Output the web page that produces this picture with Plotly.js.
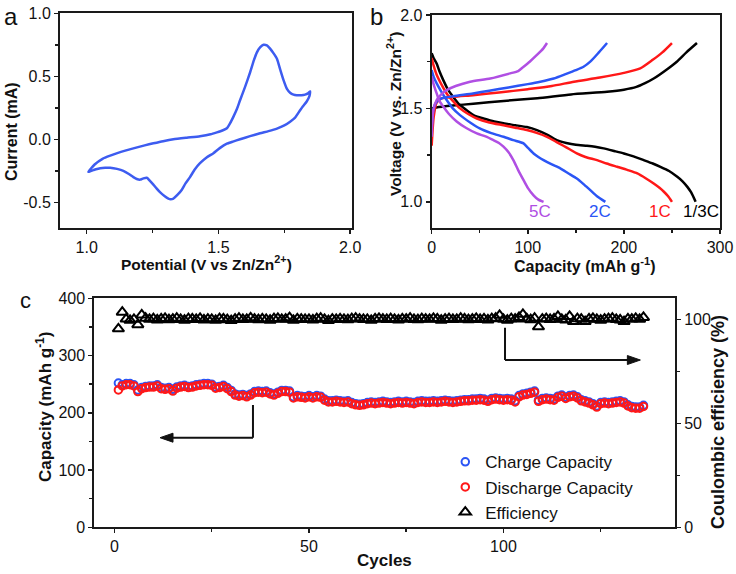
<!DOCTYPE html>
<html><head><meta charset="utf-8">
<script src="https://cdn.plot.ly/plotly-3.0.1.min.js"></script>
<style>html,body{margin:0;padding:0;background:#fff;}#chart{width:736px;height:574px;}</style>
</head><body><div id="chart"></div>
<script>
// ---- Panel a: cyclic voltammogram ----
const cvPotential = [1.006,1.03,1.06,1.089,1.13,1.177,1.22,1.253,1.29,1.329,1.38,1.43,1.47,1.494,1.515,1.532,1.545,1.557,1.57,1.582,1.60,1.620,1.635,1.646,1.658,1.671,1.684,1.696,1.71,1.722,1.735,1.747,1.76,1.772,1.785,1.797,1.815,1.829,1.840,1.848,
  1.845,1.835,1.82,1.81,1.79,1.772,1.75,1.722,1.69,1.658,1.62,1.582,1.555,1.532,1.505,1.481,1.455,1.43,1.41,1.392,1.375,1.361,1.345,1.329,1.318,1.310,1.295,1.278,1.265,1.253,1.24,1.228,1.215,1.203,1.19,1.177,1.16,1.139,1.115,1.089,1.07,1.051,1.035,1.025,1.015,1.006];
const cvCurrent = [-0.258,-0.20,-0.155,-0.130,-0.10,-0.072,-0.048,-0.032,-0.015,0.0,0.013,0.025,0.04,0.055,0.07,0.088,0.13,0.18,0.24,0.31,0.41,0.53,0.63,0.69,0.73,0.75,0.745,0.72,0.68,0.64,0.55,0.47,0.40,0.37,0.355,0.35,0.35,0.355,0.365,0.38,
  0.34,0.30,0.26,0.23,0.17,0.14,0.11,0.085,0.065,0.048,0.025,0.0,-0.018,-0.035,-0.07,-0.11,-0.145,-0.19,-0.24,-0.30,-0.35,-0.40,-0.44,-0.47,-0.475,-0.47,-0.45,-0.42,-0.39,-0.36,-0.33,-0.305,-0.31,-0.32,-0.315,-0.30,-0.275,-0.25,-0.235,-0.226,-0.226,-0.23,-0.238,-0.245,-0.252,-0.258];
const cvXTicks = [1.0,1.5,2.0], cvXTickText = ["1.0","1.5","2.0"];
const cvYTicks = [-0.5,0,0.5,1.0], cvYTickText = ["-0.5","0.0","0.5","1.0"];

// ---- Panel b: charge/discharge profiles ----
const rates = ["5C","2C","1C","1/3C"];
const chg5C_x = [0,1.7,5.2,10,15.6,25,40,61,81.7,90,95.6,102,109.5,116,120];
const chg5C_y = [1.348,1.49,1.545,1.575,1.598,1.62,1.643,1.66,1.6875,1.70,1.723,1.75,1.786,1.82,1.85];
const dis5C_x = [0,2,5.2,8,12.2,18,26,36,47,56,64.3,70,74.7,80,85,90,95.6,100,106,111,116.4];
const dis5C_y = [1.67,1.63,1.58,1.54,1.509,1.47,1.43,1.395,1.366,1.35,1.33,1.315,1.295,1.265,1.223,1.17,1.116,1.075,1.035,1.012,1.0];
const chg2C_x = [0,2,5,10,22.6,43,60,80,100,113,127,140,150,158,165,174,182.5];
const chg2C_y = [1.40,1.50,1.535,1.553,1.565,1.58,1.595,1.612,1.63,1.643,1.66,1.685,1.705,1.723,1.75,1.80,1.85];
const dis2C_x = [0,2,5.2,10,15.6,22,29.5,40,50,62,74.7,85,95.6,100,106,111,116.4,125,133.8,142,151,158,165,172,180.7];
const dis2C_y = [1.705,1.67,1.634,1.59,1.545,1.50,1.464,1.425,1.393,1.368,1.348,1.33,1.3125,1.29,1.259,1.24,1.223,1.20,1.179,1.153,1.125,1.095,1.0625,1.03,1.0];
const chg1C_x = [0,2,5,10,22.6,43,70,100,125,148,175,200,217,230,240,250];
const chg1C_y = [1.30,1.45,1.53,1.553,1.562,1.571,1.585,1.603,1.62,1.643,1.665,1.69,1.714,1.76,1.80,1.85];
const dis1C_x = [0,2,5.2,10,15.6,22,29.5,38,47,60,74.7,87,99,110,120,130,137,144,151,160,172,182,193,204,214,223,231,237,241.6,246,250];
const dis1C_y = [1.77,1.73,1.68,1.63,1.58,1.54,1.50,1.47,1.446,1.425,1.41,1.397,1.384,1.368,1.348,1.32,1.30,1.28,1.259,1.24,1.223,1.205,1.1875,1.17,1.152,1.125,1.098,1.075,1.054,1.03,1.0];
const chg13C_x = [0,5,22,43.4,75,110,145,182.5,200,213,222,231,245,255,265,276];
const chg13C_y = [1.50,1.505,1.515,1.525,1.54,1.555,1.575,1.589,1.60,1.615,1.635,1.66,1.71,1.75,1.80,1.85];
const dis13C_x = [0,2,5.2,8,12.2,17,22.6,29,36.5,45,53.9,65,74.7,87,99,109.5,120,130,140,150,161.6,170,179,190,200,210,220.7,230,238,247,255.5,261,266,270,274.6];
const dis13C_y = [1.795,1.77,1.74,1.70,1.65,1.60,1.56,1.52,1.49,1.46,1.446,1.43,1.42,1.41,1.40,1.384,1.36,1.33,1.315,1.305,1.30,1.295,1.286,1.272,1.259,1.243,1.223,1.205,1.1875,1.165,1.134,1.11,1.08,1.05,1.0];
const rateLabelX = [113,175.5,238,280];
const rateLabelY = [0.946,0.946,0.946,0.946];
const gcdXTicks = [0,100,200,300];
const gcdYTicks = [1.0,1.5,2.0], gcdYTickText = ["1.0","1.5","2.0"];

// ---- Panel c: cycling ----
const cycles = Array.from({length:136},(_,i)=>i+1);
const dischargeCap = [240,247,249,249,247,237,242,244,245,245,247,242,241,242,238,243,245,246,244,245,
  247,248,249,249,248,243,244,246,242,237,231,229,230,228,231,235,236,235,236,233,
  231,234,237,237,236,226,228,227,226,228,226,228,227,222,219,219,220,219,218,219,
  216,214,213,214,216,217,216,217,218,217,216,217,218,217,218,217,216,218,219,218,
  218,219,218,219,220,219,218,219,220,221,221,222,222,223,222,220,223,224,223,222,
  223,222,219,228,231,232,234,236,220,223,224,223,222,227,229,225,228,229,226,221,
  219,217,214,210,216,217,216,217,218,219,217,212,209,208,208,211];
const chargeCap = [252,249,251,251,249,240,244,246,247,247,249,244,243,244,241,245,247,248,246,247,
  249,250,251,251,250,245,246,248,244,239,233,231,232,230,233,237,238,237,238,235,
  233,236,239,239,238,228,230,229,228,230,228,230,229,224,221,221,222,221,220,221,
  218,216,215,216,218,219,218,219,220,219,218,219,220,219,220,219,218,220,221,220,
  220,221,220,221,222,221,220,221,222,223,223,224,224,225,224,222,225,226,225,224,
  225,224,221,230,233,234,236,238,222,225,226,225,224,229,231,227,230,231,228,223,
  221,219,216,212,218,219,218,219,220,221,219,214,211,210,210,213];
const efficiency = [95.5,103.5,100.2,99.6,100.1,97.5,102.2,100.6,100.1,100.4,99.8,100.3,100.5,99.9,100.2,100.6,100.0,99.7,100.4,100.3,
  100.0,100.5,99.8,100.2,100.1,99.6,100.4,100.3,99.9,99.5,100.2,100.6,100.0,100.1,100.8,100.2,99.9,100.3,100.0,99.7,
  100.4,100.5,100.1,100.2,100.9,99.6,100.3,100.2,100.0,100.1,99.8,100.4,100.6,100.1,99.5,100.2,100.0,100.3,100.1,99.9,
  100.4,100.6,100.2,100.0,100.1,99.6,100.3,100.5,100.2,100.0,100.4,100.1,99.8,100.3,100.2,100.6,100.0,99.9,100.4,100.2,
  100.1,100.5,100.3,99.7,100.2,100.4,100.0,100.1,100.6,100.3,99.9,100.2,100.5,100.0,100.3,99.8,100.4,100.6,102.0,100.1,
  99.7,100.4,100.2,101.0,102.5,100.3,99.9,100.6,96.5,100.2,100.4,100.0,100.3,101.5,100.1,99.8,101.5,99.0,100.4,100.2,
  99.0,100.3,100.5,100.1,99.7,100.2,100.4,100.6,100.0,99.8,99.0,100.3,100.2,100.5,100.1,101.0];
const cycXTicks = [0,50,100];
const capYTicks = [0,100,200,300,400];
const effYTicks = [0,50,100];
const legendNames = ["Charge Capacity","Discharge Capacity","Efficiency"];
const axisTitles = {
  a_x:'Potential (V vs Zn/Zn<sup>2+</sup>)', a_y:'Current (mA)',
  b_x:'Capacity (mAh g<sup>-1</sup>)', b_y:'Voltage (V vs. Zn/Zn<sup>2+</sup>)',
  c_x:'Cycles', c_y:'Capacity (mAh g<sup>-1</sup>)', c_y2:'Coulombic efficiency (%)'
};

// ---- styling ----
const FONT = "Liberation Sans, Arial, Helvetica, sans-serif";
const AX = "#1a1a1a";
const purple = "#b04fe3", blue = "#2b55f5", red = "#ff1818", black = "#000000";
const W = 736, H = 574;

function gcd(x,y,color,xa,ya){return {x:x,y:y,type:'scatter',mode:'lines',line:{color:color,width:2.5,shape:'spline',smoothing:0.6},xaxis:xa,yaxis:ya,showlegend:false,hoverinfo:'skip'};}

const traces = [
  {x:cvPotential,y:cvCurrent,type:'scatter',mode:'lines',line:{color:'#3d5cf0',width:2.5,shape:'spline',smoothing:0.5},xaxis:'x',yaxis:'y',showlegend:false},
  gcd(chg13C_x,chg13C_y,black,'x2','y2'), gcd(dis13C_x,dis13C_y,black,'x2','y2'),
  gcd(chg1C_x,chg1C_y,red,'x2','y2'), gcd(dis1C_x,dis1C_y,red,'x2','y2'),
  gcd(chg2C_x,chg2C_y,blue,'x2','y2'), gcd(dis2C_x,dis2C_y,blue,'x2','y2'),
  gcd(chg5C_x,chg5C_y,purple,'x2','y2'), gcd(dis5C_x,dis5C_y,purple,'x2','y2'),
  {x:cycles,y:chargeCap,type:'scatter',mode:'markers',name:legendNames[0],marker:{symbol:'circle-open',size:7.5,color:blue,line:{width:2,color:blue}},xaxis:'x3',yaxis:'y3'},
  {x:cycles,y:dischargeCap,type:'scatter',mode:'markers',name:legendNames[1],marker:{symbol:'circle-open',size:7.5,color:red,line:{width:2,color:red}},xaxis:'x3',yaxis:'y3'},
  {x:cycles,y:efficiency,type:'scatter',mode:'markers',name:legendNames[2],marker:{symbol:'triangle-up-open',size:10,color:black,line:{width:2,color:black}},xaxis:'x3',yaxis:'y4'}
];

const tickFont = {family:FONT,size:16,color:'#111'};
function axBase(){return {showline:true,linecolor:AX,linewidth:2,ticks:'outside',ticklen:4,tickwidth:1.5,tickcolor:AX,showgrid:false,zeroline:false,tickfont:tickFont,fixedrange:true,automargin:false};}
function minorTicks(v){return {tickvals:v,ticklen:3,tickwidth:1.5,tickcolor:AX,ticks:'outside'};}
function titleAnn(text,px,py,size,angle){return {xref:'paper',yref:'paper',x:px/W,y:1-py/H,xanchor:'center',yanchor:'middle',text:text,textangle:angle||0,showarrow:false,font:{family:FONT,size:size,color:'#111',weight:'bold'}};}

const layout = {
  width:W,height:H,margin:{l:0,r:0,t:0,b:0},paper_bgcolor:'#fff',plot_bgcolor:'#fff',
  font:{family:FONT,color:'#111'},
  showlegend:true,
  legend:{x:0.605,y:0.226,xanchor:'left',yanchor:'top',font:{family:FONT,size:17,color:'#111'},bgcolor:'rgba(0,0,0,0)',tracegroupgap:0},
  xaxis:Object.assign(axBase(),{domain:[0.0815,0.4785],anchor:'y',range:[0.8985,2.0076],tickvals:cvXTicks,ticktext:cvXTickText,mirror:true,minor:minorTicks([1.25,1.75])}),
  yaxis:Object.assign(axBase(),{domain:[0.6028,0.9768],anchor:'x',range:[-0.704,1.0],tickvals:cvYTicks,ticktext:cvYTickText,mirror:true,minor:minorTicks([-0.25,0.25,0.75])}),
  xaxis2:Object.assign(axBase(),{domain:[0.5865,0.9783],anchor:'y2',range:[0,300],tickvals:gcdXTicks,mirror:true,minor:minorTicks([50,150,250])}),
  yaxis2:Object.assign(axBase(),{domain:[0.6028,0.9739],anchor:'x2',range:[0.86,2.0],tickvals:gcdYTicks,ticktext:gcdYTickText,mirror:true,minor:minorTicks([1.25,1.75])}),
  xaxis3:Object.assign(axBase(),{domain:[0.1281,0.9171],anchor:'y3',range:[-5.2,144.1],tickvals:cycXTicks,mirror:true,minor:minorTicks([25,75,125])}),
  yaxis3:Object.assign(axBase(),{domain:[0.0814,0.4803],anchor:'x3',range:[0,400],tickvals:capYTicks,minor:minorTicks([50,150,250,350])}),
  yaxis4:Object.assign(axBase(),{domain:[0.0814,0.4803],anchor:'x3',overlaying:'y3',side:'right',range:[0,110.2],tickvals:effYTicks,minor:minorTicks([25,75])}),
  shapes:[
    {type:'line',xref:'x3',yref:'y3',x0:35.6,x1:35.6,y0:213.6,y1:156.5,line:{color:'#111',width:2}},
    {type:'line',xref:'x3',yref:'y3',x0:35.6,x1:13.5,y0:156.5,y1:156.5,line:{color:'#111',width:2}},
    {type:'path',xref:'x3',yref:'y3',xsizemode:'pixel',ysizemode:'pixel',xanchor:11.7,yanchor:156.5,path:'M0,0 L13,4.5 L13,-4.5 Z',fillcolor:'#111',line:{color:'#111',width:1}},
    {type:'line',xref:'x3',yref:'y4',x0:100.4,x1:100.4,y0:96,y1:80.5,line:{color:'#111',width:2}},
    {type:'line',xref:'x3',yref:'y4',x0:100.4,x1:133,y0:80.5,y1:80.5,line:{color:'#111',width:2}},
    {type:'path',xref:'x3',yref:'y4',xsizemode:'pixel',ysizemode:'pixel',xanchor:135.2,yanchor:80.5,path:'M0,0 L-13,4.5 L-13,-4.5 Z',fillcolor:'#111',line:{color:'#111',width:1}}
  ],
  annotations:[
    titleAnn(axisTitles.a_x,206,263,15.5),
    titleAnn(axisTitles.a_y,11,132,16,-90),
    titleAnn(axisTitles.b_x,585,265,16),
    titleAnn(axisTitles.b_y,394,114,15.5,-90),
    titleAnn(axisTitles.c_x,384,560,17),
    titleAnn(axisTitles.c_y,44,407,17,-90),
    titleAnn(axisTitles.c_y2,718,422,18,-90),
    {xref:'paper',yref:'paper',x:2/W,y:1-1/H,xanchor:'left',yanchor:'top',text:'a',showarrow:false,font:{family:FONT,size:24,color:'#111'}},
    {xref:'paper',yref:'paper',x:368/W,y:1-1/H,xanchor:'left',yanchor:'top',text:'b',showarrow:false,font:{family:FONT,size:24,color:'#111'}},
    {xref:'paper',yref:'paper',x:18/W,y:1-286/H,xanchor:'left',yanchor:'top',text:'c',showarrow:false,font:{family:FONT,size:22,color:'#111'}},
    {xref:'x2',yref:'y2',x:rateLabelX[0],y:rateLabelY[0],text:rates[0],showarrow:false,font:{family:FONT,size:17,color:purple}},
    {xref:'x2',yref:'y2',x:rateLabelX[1],y:rateLabelY[1],text:rates[1],showarrow:false,font:{family:FONT,size:17,color:blue}},
    {xref:'x2',yref:'y2',x:rateLabelX[2],y:rateLabelY[2],text:rates[2],showarrow:false,font:{family:FONT,size:17,color:red}},
    {xref:'x2',yref:'y2',x:rateLabelX[3],y:rateLabelY[3],text:rates[3],showarrow:false,font:{family:FONT,size:17,color:black}}
  ]
};
Plotly.newPlot('chart',traces,layout,{displayModeBar:false,staticPlot:true});
</script></body></html>
